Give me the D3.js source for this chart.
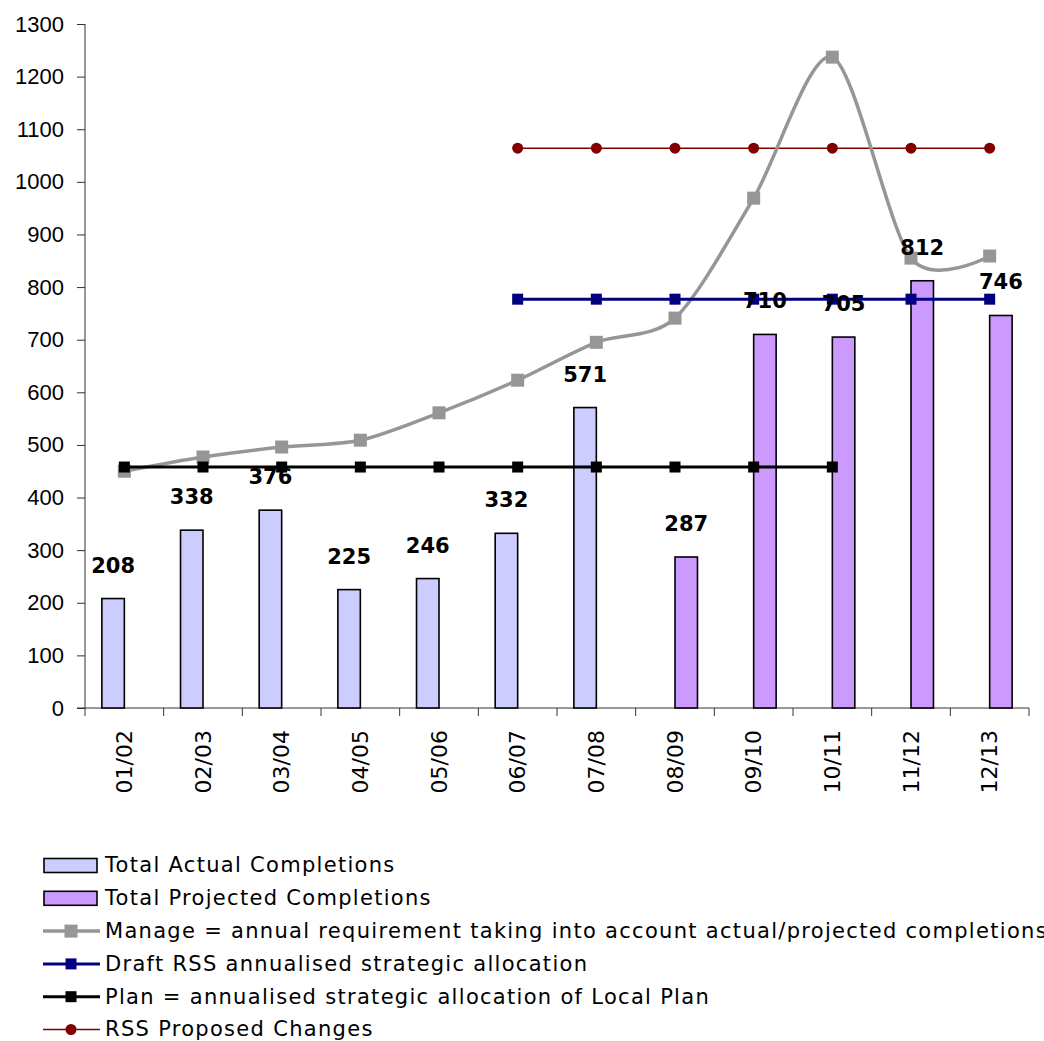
<!DOCTYPE html>
<html>
<head>
<meta charset="utf-8">
<script src="https://cdn.jsdelivr.net/npm/d3@7"></script>
<style>
  html, body { margin: 0; padding: 0; background: #fff; overflow: hidden; }
  svg { display: block; font-family: "DejaVu Sans", sans-serif; }
</style>
</head>
<body>
<svg id="chart" width="1044" height="1041"></svg>
<script>
// Housing completions by year, with allocation/requirement lines
const years = ["01/02","02/03","03/04","04/05","05/06","06/07","07/08","08/09","09/10","10/11","11/12","12/13"];
const actualCompletions    = [208, 338, 376, 225, 246, 332, 571, null, null, null, null, null];
const projectedCompletions = [null, null, null, null, null, null, null, 287, 710, 705, 812, 746];
const manageRequirement    = [450, 477, 496, 509, 561, 623, 695, 741, 969, 1237, 855, 859];
const draftRSS             = [null, null, null, null, null, 777, 777, 777, 777, 777, 777, 777];
const planAllocation       = [458, 458, 458, 458, 458, 458, 458, 458, 458, 458, null, null];
const rssProposed          = [null, null, null, null, null, 1064, 1064, 1064, 1064, 1064, 1064, 1064];
const yTicks = [0,100,200,300,400,500,600,700,800,900,1000,1100,1200,1300];

const legendItems = [
  { label: "Total Actual Completions", type: "bar", fill: "#CCCCFF" },
  { label: "Total Projected Completions", type: "bar", fill: "#CC99FF" },
  { label: "Manage = annual requirement taking into account actual/projected completions", type: "line", color: "#969696", width: 3.5, marker: "square", size: 13 },
  { label: "Draft RSS annualised strategic allocation", type: "line", color: "#000080", width: 3, marker: "square", size: 11 },
  { label: "Plan = annualised strategic allocation of Local Plan", type: "line", color: "#000000", width: 3, marker: "square", size: 11 },
  { label: "RSS Proposed Changes", type: "line", color: "#800000", width: 1.5, marker: "circle", size: 11 }
];

const svg = d3.select("#chart");
const plotLeft = 85, plotRight = 1029, plotTop = 24, plotBottom = 708;

const x = d3.scaleBand().domain(years).range([plotLeft, plotRight]).paddingInner(0).paddingOuter(0);
const sub = d3.scaleBand().domain(["actual","projected"]).range([0, x.bandwidth()]).paddingInner(0).paddingOuter(0.75);
const y = d3.scaleLinear().domain([0, 1300]).range([plotBottom, plotTop]);
const cx = d => x(d) + x.bandwidth() / 2;

// Y axis
const yAxis = svg.append("g").attr("transform", `translate(${plotLeft},0)`)
  .call(d3.axisLeft(y).tickValues(yTicks).tickFormat(d3.format("d")).tickSize(8).tickPadding(13));
yAxis.selectAll("text").attr("font-size", 22).attr("fill", "#000");
yAxis.selectAll("line, path").attr("stroke", "#333").attr("stroke-width", 1);
yAxis.select("path").attr("d", `M0,${plotTop}V${plotBottom}`);

// X axis with ticks on category boundaries
const xAxisG = svg.append("g");
xAxisG.append("line").attr("x1", plotLeft - 8).attr("x2", plotRight).attr("y1", plotBottom).attr("y2", plotBottom)
  .attr("stroke", "#333");
xAxisG.selectAll("line.tick").data(d3.range(years.length + 1)).join("line")
  .attr("class", "tick")
  .attr("x1", i => plotLeft + i * x.step()).attr("x2", i => plotLeft + i * x.step())
  .attr("y1", plotBottom).attr("y2", plotBottom + 8).attr("stroke", "#333");
xAxisG.selectAll("text").data(years).join("text")
  .attr("transform", d => `translate(${cx(d)},${730}) rotate(-90)`)
  .attr("text-anchor", "end").attr("dy", "0.35em")
  .attr("font-size", 22).attr("fill", "#000").text(d => d);

// Bars
function drawBars(values, key, fill) {
  svg.append("g").selectAll("rect")
    .data(years.map((yr, i) => ({ yr, v: values[i] })).filter(d => d.v != null))
    .join("rect")
    .attr("x", d => x(d.yr) + sub(key))
    .attr("y", d => y(d.v))
    .attr("width", sub.bandwidth())
    .attr("height", d => plotBottom - y(d.v))
    .attr("fill", fill).attr("stroke", "#000").attr("stroke-width", 1.6);
}
drawBars(actualCompletions, "actual", "#CCCCFF");
drawBars(projectedCompletions, "projected", "#CC99FF");

// Lines
function drawLine(values, color, width, curve, marker, size) {
  const pts = years.map((yr, i) => ({ yr, v: values[i] })).filter(d => d.v != null);
  const g = svg.append("g");
  g.append("path").datum(pts)
    .attr("d", d3.line().x(d => cx(d.yr)).y(d => y(d.v)).curve(curve))
    .attr("fill", "none").attr("stroke", color).attr("stroke-width", width).attr("stroke-linejoin", "round");
  if (marker === "square") {
    g.selectAll("rect").data(pts).join("rect")
      .attr("x", d => cx(d.yr) - size / 2).attr("y", d => y(d.v) - size / 2)
      .attr("width", size).attr("height", size).attr("fill", color);
  } else {
    g.selectAll("circle").data(pts).join("circle")
      .attr("cx", d => cx(d.yr)).attr("cy", d => y(d.v)).attr("r", size / 2).attr("fill", color);
  }
}
drawLine(rssProposed, "#800000", 1.5, d3.curveLinear, "circle", 11);
drawLine(manageRequirement, "#969696", 3.5, d3.curveCardinal.tension(0.15), "square", 13);
drawLine(draftRSS, "#000080", 3, d3.curveLinear, "square", 11);
drawLine(planAllocation, "#000000", 3, d3.curveLinear, "square", 11);

// Value labels above bars
function drawLabels(values, key) {
  svg.append("g").selectAll("text")
    .data(years.map((yr, i) => ({ yr, v: values[i] })).filter(d => d.v != null))
    .join("text")
    .attr("x", d => x(d.yr) + sub(key) + sub.bandwidth() / 2)
    .attr("y", d => y(d.v) - 26)
    .attr("text-anchor", "middle")
    .attr("font-size", 21).attr("font-weight", "bold").attr("fill", "#000")
    .text(d => d.v);
}
drawLabels(actualCompletions, "actual");
drawLabels(projectedCompletions, "projected");

// Legend
const legend = svg.append("g");
legendItems.forEach((item, i) => {
  const ly = 865.5 + i * 32.8;
  const g = legend.append("g");
  if (item.type === "bar") {
    g.append("rect").attr("x", 44).attr("y", ly - 7).attr("width", 53).attr("height", 14)
      .attr("fill", item.fill).attr("stroke", "#000").attr("stroke-width", 1.6);
  } else {
    g.append("line").attr("x1", 43).attr("x2", 100).attr("y1", ly).attr("y2", ly)
      .attr("stroke", item.color).attr("stroke-width", item.width);
    if (item.marker === "square") {
      g.append("rect").attr("x", 71 - item.size / 2).attr("y", ly - item.size / 2)
        .attr("width", item.size).attr("height", item.size).attr("fill", item.color);
    } else {
      g.append("circle").attr("cx", 71).attr("cy", ly).attr("r", item.size / 2).attr("fill", item.color);
    }
  }
  g.append("text").attr("x", 105).attr("y", ly).attr("dy", "0.33em")
    .attr("font-size", 21).attr("letter-spacing", 1.3).attr("fill", "#000").text(item.label);
});
</script>
</body>
</html>
